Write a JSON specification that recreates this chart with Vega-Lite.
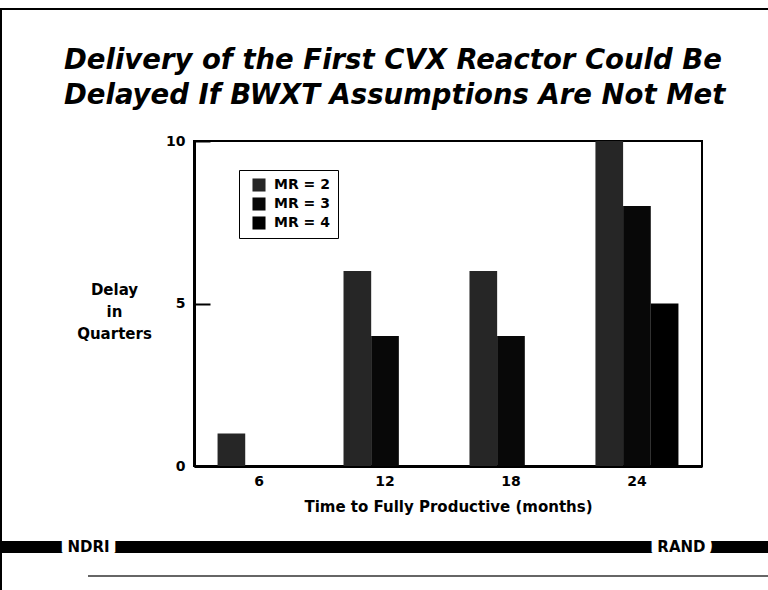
{
  "$schema": "https://vega.github.io/schema/vega-lite/v6.json",
  "background": "white",
  "padding": {"left": 0, "top": 8, "right": 0, "bottom": 0},
  "config": {
    "font": "DejaVu Sans",
    "axis": {"labelFont": "DejaVu Sans", "titleFont": "DejaVu Sans", "labelColor": "black", "titleColor": "black"},
    "legend": {"labelFont": "DejaVu Sans"}
  },
  "spacing": 0,
  "hconcat": [
    {
      "width": 2,
      "height": 590,
      "data": {"values": [{}]},
      "view": {"fill": "black", "stroke": null},
      "mark": {"type": "rect", "color": "black"},
      "encoding": {}
    },
    {
      "spacing": 20,
      "vconcat": [
        {
          "spacing": 25,
          "vconcat": [
            {
              "spacing": 35,
              "vconcat": [
                {
                  "width": 766,
                  "height": 2,
                  "data": {"values": [{}]},
                  "view": {"fill": "black", "stroke": null},
                  "mark": {"type": "rect", "color": "black"},
                  "encoding": {}
                },
                {
                  "spacing": 0,
                  "hconcat": [
                    {
                      "width": 61,
                      "height": 2,
                      "data": {"values": []},
                      "view": {"stroke": null},
                      "mark": {"type": "rect"},
                      "encoding": {}
                    },
                    {
                      "width": 508,
                      "height": 325,
                      "title": {
                        "text": ["Delivery of the First CVX Reactor Could Be", "Delayed If BWXT Assumptions Are Not Met"],
                        "anchor": "start",
                        "frame": "group",
                        "dx": -130,
                        "font": "DejaVu Sans",
                        "fontSize": 27.5,
                        "fontWeight": "bold",
                        "fontStyle": "italic",
                        "lineHeight": 35,
                        "color": "black",
                        "offset": 25
                      },
                      "view": {"stroke": "black", "strokeWidth": 2},
                      "data": {
                        "values": [
                          {"months": 6, "series": "MR = 2", "delay": 1},
                          {"months": 6, "series": "MR = 3", "delay": 0},
                          {"months": 6, "series": "MR = 4", "delay": 0},
                          {"months": 12, "series": "MR = 2", "delay": 6},
                          {"months": 12, "series": "MR = 3", "delay": 4},
                          {"months": 12, "series": "MR = 4", "delay": 0},
                          {"months": 18, "series": "MR = 2", "delay": 6},
                          {"months": 18, "series": "MR = 3", "delay": 4},
                          {"months": 18, "series": "MR = 4", "delay": 0},
                          {"months": 24, "series": "MR = 2", "delay": 10},
                          {"months": 24, "series": "MR = 3", "delay": 8},
                          {"months": 24, "series": "MR = 4", "delay": 5}
                        ]
                      },
                      "mark": {"type": "bar"},
                      "encoding": {
                        "x": {
                          "field": "months",
                          "type": "ordinal",
                          "title": "Time to Fully Productive (months)",
                          "scale": {"paddingInner": 0.341, "paddingOuter": 0.187},
                          "axis": {
                            "labelAngle": 0,
                            "labelFontSize": 14,
                            "labelFontWeight": "bold",
                            "labelPadding": 8,
                            "ticks": false,
                            "domainColor": "black",
                            "domainWidth": 3,
                            "titleFontSize": 15,
                            "titleFontWeight": "bold",
                            "titlePadding": 11
                          }
                        },
                        "xOffset": {
                          "field": "series",
                          "type": "nominal",
                          "scale": {"paddingInner": 0, "paddingOuter": 0}
                        },
                        "y": {
                          "field": "delay",
                          "type": "quantitative",
                          "scale": {"domain": [0, 10], "nice": false},
                          "axis": {
                            "values": [0, 5, 10],
                            "grid": false,
                            "domainColor": "black",
                            "domainWidth": 3,
                            "tickColor": "black",
                            "tickWidth": 2,
                            "tickSize": -16,
                            "labelPadding": 25,
                            "labelFontSize": 14,
                            "labelFontWeight": "bold",
                            "title": ["Delay", "in", "Quarters"],
                            "titleAngle": 0,
                            "titleAlign": "center",
                            "titleBaseline": "middle",
                            "titleX": -80,
                            "titleY": 148,
                            "titleLineHeight": 22,
                            "titleFontSize": 15,
                            "titleFontWeight": "bold"
                          }
                        },
                        "color": {
                          "field": "series",
                          "type": "nominal",
                          "scale": {"domain": ["MR = 2", "MR = 3", "MR = 4"], "range": ["#262626", "#080808", "#000000"]},
                          "legend": {
                            "title": null,
                            "orient": "none",
                            "legendX": 239,
                            "legendY": 162,
                            "strokeColor": "black",
                            "fillColor": "white",
                            "padding": 8,
                            "symbolType": "square",
                            "symbolSize": 170,
                            "symbolStrokeWidth": 0,
                            "symbolOffset": 5,
                            "labelOffset": 8,
                            "rowPadding": 5,
                            "labelFontSize": 14,
                            "labelFontWeight": "bold",
                            "labelColor": "black"
                          }
                        }
                      }
                    }
                  ]
                }
              ]
            },
            {
              "width": 766,
              "height": 12,
              "view": {"fill": "black", "stroke": null},
              "data": {"values": [{"label": "NDRI"}, {"label": "RAND"}]},
              "encoding": {
                "x": {"field": "label", "type": "nominal", "scale": {"type": "point", "padding": 0.146}, "axis": null},
                "text": {"field": "label"}
              },
              "layer": [
                {"mark": {"type": "text", "font": "DejaVu Sans", "fontSize": 15, "fontWeight": "bold", "stroke": "white", "strokeWidth": 14, "strokeJoin": "bevel", "fill": "white", "baseline": "middle"}},
                {"mark": {"type": "text", "font": "DejaVu Sans", "fontSize": 15, "fontWeight": "bold", "fill": "black", "baseline": "middle"}}
              ]
            }
          ]
        },
        {
          "spacing": 0,
          "hconcat": [
            {
              "width": 86,
              "height": 2,
              "data": {"values": []},
              "view": {"stroke": null},
              "mark": {"type": "rect"},
              "encoding": {}
            },
            {
              "width": 680,
              "height": 2,
              "data": {"values": [{}]},
              "view": {"fill": "#666666", "stroke": null},
              "mark": {"type": "rect", "color": "#666666"},
              "encoding": {}
            }
          ]
        }
      ]
    }
  ]
}
